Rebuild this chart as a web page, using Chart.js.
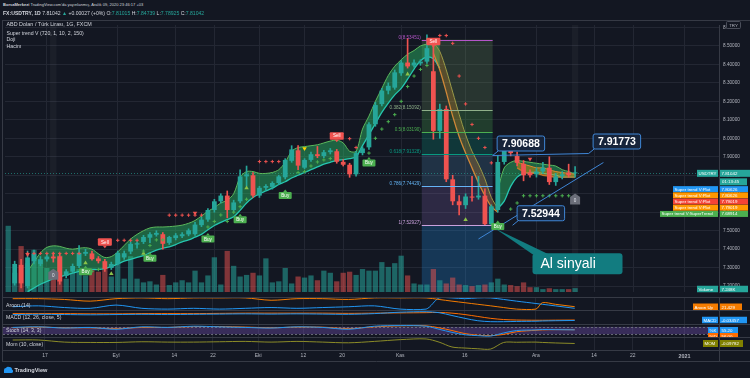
<!DOCTYPE html>
<html lang="tr">
<head>
<meta charset="UTF-8">
<title>USDTRY</title>
<script src="https://cdn.jsdelivr.net/npm/chart.js@4.4.1/dist/chart.umd.min.js"></script>
<style>
  html, body { margin:0; padding:0; background:#131722; }
  #wrap { position:relative; width:750px; height:378px; overflow:hidden; background:#131722;
          font-family:"Liberation Sans", Arial, sans-serif; color:#d1d4dc; }
  #wrap canvas { position:absolute; left:0; }
  .t { position:absolute; white-space:nowrap; line-height:1; }
  .g { color:#26a69a; }
</style>
</head>
<body>
<div id="wrap">
  <canvas id="cMain"  width="750" height="277" style="top:20px"></canvas>
  <canvas id="cAroon" width="750" height="13"  style="top:297px"></canvas>
  <canvas id="cMacd"  width="750" height="14"  style="top:310px"></canvas>
  <canvas id="cStoch" width="750" height="13"  style="top:324px"></canvas>
  <canvas id="cMom"   width="750" height="25"  style="top:337px"></canvas>

  <div class="t" style="left:3px;top:3px;font-size:4.05px"><b>BorsaMerkezi</b> TradingView.com'da yayınlanmış, Aralık 09, 2020 23:46:17 +03</div>
  <div class="t" style="left:3px;top:10.5px;font-size:5.1px"><b>FX:USDTRY, 1D</b> 7.81042 <span class="g">▲</span> +0.00027 (+0%) O:<span class="g">7.81015</span> H:<span class="g">7.84739</span> L:<span class="g">7.78925</span> C:<span class="g">7.81042</span></div>

  <div class="t" style="left:6.5px;top:22.3px;font-size:5.4px">ABD Doları / Türk Lirası, 1G, FXCM</div>
  <div class="t" style="left:6.5px;top:30.5px;font-size:5.2px">Super trend V (720, 1, 10, 2, 150)</div>
  <div class="t" style="left:6.5px;top:37px;font-size:5.2px">Doji</div>
  <div class="t" style="left:6.5px;top:44px;font-size:5.2px">Hacim</div>

  <div class="t" style="left:6px;top:302.5px;font-size:5.2px">Aroon (14)</div>
  <div class="t" style="left:6px;top:315.3px;font-size:5.2px">MACD (12, 26, close, 5)</div>
  <div class="t" style="left:6px;top:328.3px;font-size:5.2px">Stoch (14, 3, 3)</div>
  <div class="t" style="left:6px;top:342px;font-size:5.2px">Mom (10, close)</div>

  <svg style="position:absolute;left:3px;top:366px" width="11" height="8" viewBox="0 0 11 8">
    <path d="M1 7 L1 4 Q1 2 3 2 Q4 0 6.5 1 Q9 1 9 3.5 Q10.5 4 10 6 Q9.6 7 8.5 7 Z" fill="#2196f3"/>
  </svg>
  <div class="t" style="left:14.5px;top:367.5px;font-size:5.6px;font-weight:bold;color:#d1d4dc">TradingView</div>
</div>

<script>
// x axis: trading-day index, 0 = 7 Ağu 2020, 88 = 9 Ara 2020
const tickIdx    = [6, 17, 26, 32, 39, 46, 52, 61, 71, 82, 91, 97, 105];
const tickLabels = ['17', 'Eyl', '14', '22', 'Eki', '12', '20', 'Kas', '16', 'Ara', '14', '22', '2021'];
const priceTicks = [7.2, 7.3, 7.4, 7.5, 7.6, 7.7, 7.8, 7.9, 8.0, 8.1, 8.2, 8.3, 8.4, 8.5, 8.6];

const opens = [null,
  7.215, 7.315, 7.200, 7.335, 7.320, 7.345, 7.360, 7.361, 7.255, 7.278,
  7.309, 7.375, 7.377, 7.350, 7.335, 7.298, 7.320, 7.355, 7.387, 7.425,
  7.439, 7.462, 7.478, 7.481, 7.434, 7.460, 7.470, 7.480, 7.481, 7.530,
  7.560, 7.612, 7.659, 7.690, 7.612, 7.659, 7.794, 7.800, 7.690, 7.732,
  7.737, 7.758, 7.789, 7.878, 7.935, 7.841, 7.883, 7.914, 7.904, 7.925,
  7.930, 7.873, 7.857, 7.805, 7.920, 7.951, 8.076, 8.185, 8.258, 8.274,
  8.352, 8.410, 8.394, 8.405, 8.415, 8.363, 8.040, 8.159, 7.778, 7.659,
  7.638, 7.685, 7.680, 7.690, 7.535, 7.612, 7.872, 7.961, 7.904, 7.862,
  7.815, 7.805, 7.820, 7.841, 7.763, 7.794, 7.815, 7.81015];
const highs = [null,
  7.335, 7.345, 7.390, 7.395, 7.360, 7.375, 7.380, 7.375, 7.290, 7.320,
  7.420, 7.400, 7.390, 7.360, 7.345, 7.330, 7.390, 7.390, 7.440, 7.440,
  7.475, 7.490, 7.500, 7.490, 7.470, 7.485, 7.490, 7.510, 7.545, 7.575,
  7.620, 7.670, 7.700, 7.715, 7.665, 7.830, 7.850, 7.815, 7.740, 7.750,
  7.765, 7.800, 7.890, 7.960, 7.960, 7.890, 7.925, 7.956, 7.935, 7.945,
  7.940, 7.885, 7.865, 7.930, 7.955, 8.085, 8.195, 8.270, 8.300, 8.370,
  8.420, 8.540, 8.425, 8.425, 8.560, 8.534, 8.185, 8.175, 7.800, 7.690,
  7.700, 7.794, 7.794, 7.726, 7.640, 7.907, 8.003, 7.990, 7.925, 7.880,
  7.830, 7.840, 7.870, 7.900, 7.810, 7.820, 7.860, 7.84739];
const lows = [null,
  7.205, 7.190, 7.190, 7.320, 7.310, 7.335, 7.330, 7.210, 7.245, 7.270,
  7.300, 7.365, 7.340, 7.325, 7.280, 7.290, 7.315, 7.345, 7.375, 7.405,
  7.430, 7.435, 7.470, 7.400, 7.425, 7.450, 7.462, 7.472, 7.475, 7.522,
  7.550, 7.600, 7.650, 7.570, 7.600, 7.650, 7.740, 7.680, 7.680, 7.720,
  7.725, 7.750, 7.780, 7.870, 7.830, 7.835, 7.875, 7.895, 7.895, 7.915,
  7.865, 7.850, 7.789, 7.795, 7.910, 7.940, 8.065, 8.175, 8.240, 8.265,
  8.340, 8.380, 8.385, 8.395, 8.405, 7.995, 8.000, 7.765, 7.640, 7.585,
  7.620, 7.660, 7.670, 7.530, 7.5294, 7.600, 7.860, 7.905, 7.850, 7.770,
  7.790, 7.790, 7.810, 7.750, 7.745, 7.780, 7.790, 7.78925];
const closes = [null,
  7.320, 7.215, 7.355, 7.375, 7.345, 7.360, 7.350, 7.225, 7.280, 7.309,
  7.380, 7.385, 7.346, 7.335, 7.293, 7.320, 7.380, 7.378, 7.429, 7.432,
  7.466, 7.481, 7.488, 7.429, 7.466, 7.475, 7.481, 7.502, 7.533, 7.560,
  7.612, 7.659, 7.690, 7.612, 7.653, 7.794, 7.805, 7.690, 7.732, 7.742,
  7.758, 7.794, 7.883, 7.940, 7.852, 7.883, 7.914, 7.904, 7.925, 7.935,
  7.873, 7.857, 7.805, 7.920, 7.945, 8.076, 8.180, 8.258, 8.284, 8.357,
  8.410, 8.389, 8.410, 8.415, 8.488, 8.040, 8.159, 7.778, 7.659, 7.638,
  7.685, 7.679, 7.690, 7.535, 7.632, 7.872, 7.961, 7.920, 7.867, 7.800,
  7.800, 7.820, 7.841, 7.763, 7.794, 7.805, 7.800, 7.81042];
// volume, thousands
const volumes = [
  124, 36, 86, 54, 79, 61, 45, 36, 68, 25,
  36, 43, 31, 43, 38, 45, 29, 70, 25, 67,
  25, 18, 20, 14, 32, 13, 18, 22, 18, 40,
  18, 31, 65, 14, 77, 49, 29, 32, 36, 31,
  63, 18, 20, 45, 16, 29, 27, 31, 22, 40,
  36, 20, 36, 38, 32, 43, 40, 40, 56, 47,
  54, 68, 31, 16, 14, 14, 43, 22, 16, 27,
  14, 13, 11, 13, 14, 18, 25, 14, 13, 11,
  18, 9, 9, 5.4, 7, 5.4, 5.4, 5.4, 7.248];

// super trend ribbon, by segment (start index + values)
const stStartA = 3;
const stUpA = [7.28, 7.33, 7.38, 7.41, 7.418, 7.415, 7.405, 7.40, 7.405, 7.408,
  7.40, 7.375, 7.355, 7.36, 7.385, 7.42, 7.455, 7.48, 7.50, 7.515,
  7.52, 7.52, 7.522, 7.525, 7.53, 7.54, 7.555, 7.58, 7.605, 7.625,
  7.65, 7.665, 7.70, 7.79, 7.82, 7.82, 7.81, 7.81, 7.815, 7.83,
  7.87, 7.93, 7.95, 7.955, 7.96, 7.965, 7.975, 7.985, 7.99, 7.975,
  7.93, 7.93, 8.05, 8.12, 8.20, 8.27, 8.34, 8.39, 8.425, 8.455,
  8.475, 8.50, 8.51, 8.52, 8.52];
const stDnA = [7.17, 7.19, 7.21, 7.225, 7.24, 7.25, 7.26, 7.27, 7.28, 7.285,
  7.29, 7.29, 7.295, 7.305, 7.32, 7.335, 7.345, 7.355, 7.365, 7.38,
  7.395, 7.405, 7.413, 7.425, 7.44, 7.45, 7.465, 7.48, 7.505, 7.528,
  7.545, 7.56, 7.575, 7.61, 7.65, 7.68, 7.70, 7.715, 7.73, 7.75,
  7.765, 7.785, 7.80, 7.815, 7.83, 7.845, 7.86, 7.87, 7.88, 7.885,
  7.89, 7.90, 7.96, 8.02, 8.08, 8.14, 8.19, 8.235, 8.27, 8.32,
  8.375, 8.42, 8.44, 8.43, 8.38];
const stStartB = 66;
const stUpB = [8.52, 8.47, 8.37, 8.25, 8.13, 8.02, 7.93, 7.86, 7.78, 7.68, 7.62];
const stDnB = [8.46, 8.37, 8.25, 8.12, 8.01, 7.92, 7.84, 7.76, 7.69, 7.63, 7.60];
const stStartC = 76;
const stUpC = [7.72, 7.84, 7.87, 7.88, 7.875, 7.87, 7.865, 7.86, 7.855, 7.85, 7.83, 7.82, 7.806];
const stDnC = [7.62, 7.66, 7.74, 7.79, 7.81, 7.815, 7.815, 7.81, 7.805, 7.80, 7.79, 7.79, 7.79];
const stStartD = 79;
const stUpD = [7.87, 7.86, 7.85, 7.84, 7.84, 7.83, 7.82, 7.815, 7.81, 7.806];
const stDnD = [7.84, 7.82, 7.81, 7.81, 7.80, 7.795, 7.79, 7.79, 7.79, 7.79];

// trailing stop crosses
const redDotIdx = [3,4,5,6,7,8,9,10,11, 17,18,19,20, 25,26,27,28,29,30, 39,40,41,42, 53,54, 67,68,69,70,71,72,73,74,75];
const redDotVal = [7.377,7.377,7.377,7.377,7.377,7.377,7.377,7.377,7.377, 7.448,7.448,7.448,7.448,
  7.584,7.584,7.584,7.584,7.584,7.584, 7.874,7.874,7.874,7.874, 7.998,7.95,
  8.556,8.556,8.514,8.337,8.186,8.075,8.00,7.95,7.867];
const greenDotIdx = [12,13,14, 21,22,23,24, 31,32,33,34,35,36,37, 45,46,47,48,49,50,
  56,57,58,59,60,61,62,63,64,65, 78,79, 80,81,82,83,84,85,86,87,88];
const greenDotVal = [7.27,7.28,7.29, 7.39,7.42,7.45,7.45, 7.52,7.55,7.585,7.55,7.60,7.63,7.67,
  7.815,7.82,7.85,7.872,7.883,7.89, 7.92,8.0,8.05,8.09,8.128,8.2,8.28,8.337,8.373,8.394,
  7.617,7.65, 7.689,7.689,7.689,7.689,7.689,7.689,7.689,7.689,7.689];

// signal markers
const triUpIdx = [12, 16, 21, 37, 62, 71];
const triUpVal = [7.325, 7.267, 7.377, 7.731, 8.347, 7.559];
const triRedIdx = [3, 29, 81];
const triRedVal = [7.372, 7.596, 7.888];
const triYelIdx = [46];
const triYelVal = [7.945];
const buyIdx = [12, 22, 31, 36, 43, 56, 76];
const buyVal = [7.278, 7.351, 7.455, 7.559, 7.690, 7.867, 7.523];
const sellIdx = [15, 51, 66];
const sellVal = [7.439, 8.013, 8.5245];
const flagIdx = [7, 88];
const flagVal = [7.262, 7.669];

// fibonacci retracement
const fibRatios = [0, 0.382, 0.5, 0.618, 0.786, 1];
const fibPrices = [8.53451, 8.15092, 8.03190, 7.91328, 7.74429, 7.52927];
const fibExt = 6.908;
const fibFrom = 64.2, fibTo = 75.2;

// drawings
const trendHIdx = [75.2, 90.1];
const trendHVal = [7.90688, 7.91773];
const trendUpIdx = [73.0, 92.4];
const trendUpVal = [7.455, 7.869];
const calloutIdx = [75.2, 90.1, 78.3];
const calloutVal = [7.90688, 7.91773, 7.52944];
const noteIdx = 75.8, noteVal = 7.51, noteText = 'Al sinyali';

const stTagNames = ['Super trend V:Plot', 'Super trend V:Plot', 'Super trend V:Plot', 'Super trend V:Plot', 'Super trend V:SuperTrend'];
const stTagVals  = [7.80626, 7.80626, 7.79019, 7.79019, 7.68914];

// lower panes (sampled bars)
const indIdx   = [1, 5, 9, 13, 17, 21, 25, 29, 33, 37, 41, 45, 49, 53, 57, 61, 65, 67, 69, 71, 73, 75, 77, 79, 82, 83, 85, 88];
const aroonUp  = [93, 93, 86, 71, 93, 100, 93, 100, 100, 100, 79, 93, 93, 86, 100, 100, 100, 86, 71, 57, 43, 29, 14, 0, 0, 57, 43, 21.429];
const aroonDn  = [21, 29, 14, 7, 36, 7, 0, 7, 0, 7, 14, 7, 14, 21, 29, 0, 0, 100, 100, 93, 100, 100, 86, 71, 50, 43, 29, 7];
const macdLine = [0.09, 0.095, 0.09, 0.085, 0.09, 0.095, 0.09, 0.095, 0.1, 0.105, 0.1, 0.105, 0.1, 0.095, 0.11, 0.14, 0.15, 0.13, 0.07, 0.01, -0.04, -0.06, -0.06, -0.055, -0.05, -0.045, -0.04, -0.03457];
const macdSig  = [0.11, 0.11, 0.11, 0.105, 0.105, 0.11, 0.11, 0.11, 0.115, 0.12, 0.12, 0.12, 0.12, 0.115, 0.12, 0.125, 0.13, 0.135, 0.12, 0.09, 0.05, 0.01, -0.015, -0.025, -0.03, -0.03, -0.028, -0.025];
const stochK   = [75, 80, 70, 75, 60, 80, 75, 85, 80, 75, 70, 80, 75, 60, 85, 90, 85, 60, 35, 15, 8, 5, 30, 50, 55, 58, 57, 55.20];
const stochD   = [72, 78, 72, 72, 65, 75, 75, 82, 82, 78, 72, 78, 77, 65, 80, 88, 88, 72, 50, 25, 12, 8, 18, 40, 52, 55, 57, 56];
const stochBands = [80, 20];
const mom      = [0.4, 0.4, 0.1, 0.05, 0.05, 0.15, 0.1, 0.1, 0.15, 0.2, 0.1, 0.2, 0.1, 0.0, 0.2, 0.45, 0.55, 0.1, -0.6, -0.75, -0.85, -0.89, 0.05, 0.08, 0.1, 0.05, -0.02, -0.09782];

// ---------------------------------------------------------------
const GRID = '#232733', BORDER = '#363a45', TXT = '#b2b5be';
const UP = '#26a69a', DOWN = '#ef5350';
const FONT = '"Liberation Sans", Arial, sans-serif';
const X_MIN = -0.5, X_MAX = 110.34;

Chart.defaults.font.family = FONT;
Chart.defaults.animation = false;

const seq = (start, vals) => vals.map((v, k) => ({x: start + k, y: v}));
const pairs = (xs, ys) => ys.map((v, k) => ({x: xs[k], y: v}));
const isUp = i => opens[i] === null || closes[i] >= opens[i];

const bodies = [], wicks = [], vols = [];
opens.forEach((o, i) => {
  if (o !== null) {
    bodies.push({x: i, y: [o, closes[i]]});
    wicks.push({x: i, y: [lows[i], highs[i]]});
  }
  vols.push({x: i, y: volumes[i]});
});

function xAxis(showLabels) {
  return {
    type: 'linear', min: X_MIN, max: X_MAX, offset: false,
    afterBuildTicks: s => { s.ticks = tickIdx.map(v => ({value: v})); },
    afterFit: s => { s.height = showLabels ? 12 : 0; s.paddingLeft = 0; s.paddingRight = 0; },
    grid: {color: GRID, drawTicks: false, offset: false},
    border: {display: false},
    ticks: {
      display: showLabels, autoSkip: false, maxRotation: 0, color: TXT, padding: 3,
      font: c => c.index === tickIdx.length - 1 ? {size: 5.4, weight: 'bold'} : {size: 5},
      callback: (v, i) => tickLabels[i]
    }
  };
}

function ribbon(start, up, dn, fillColor, upColor, dnColor, order) {
  return [
    {type: 'line', data: seq(start, up), borderColor: upColor, borderWidth: 1, fill: '+1',
     backgroundColor: fillColor, pointRadius: 0, tension: 0.3, order: order},
    {type: 'line', data: seq(start, dn), borderColor: dnColor, borderWidth: 1.3, fill: false,
     pointRadius: 0, tension: 0.3, order: order - 1}
  ];
}

function marks(xs, ys, style, color, radius, rot) {
  return {type: 'line', data: pairs(xs, ys), showLine: false, pointStyle: style, pointRadius: radius,
    pointBackgroundColor: color, pointBorderColor: color, pointBorderWidth: style === 'cross' ? 1 : 0,
    pointRotation: rot || 0, order: 1};
}

function clipArea(ctx, a) {
  ctx.beginPath(); ctx.rect(a.left, a.top, a.right - a.left, a.bottom - a.top); ctx.clip();
}

function sigLabel(ctx, cx, cy, w, h, color, text, pointerUp) {
  const l = cx - w / 2, t = cy - h / 2;
  ctx.fillStyle = color;
  ctx.beginPath(); ctx.roundRect(l, t, w, h, 1); ctx.fill();
  ctx.beginPath();
  if (pointerUp) { ctx.moveTo(cx - 2, t); ctx.lineTo(cx, t - 2.5); ctx.lineTo(cx + 2, t); }
  else { ctx.moveTo(cx - 2, t + h); ctx.lineTo(cx, t + h + 2.5); ctx.lineTo(cx + 2, t + h); }
  ctx.fill();
  ctx.fillStyle = '#fff'; ctx.font = '4.6px ' + FONT;
  ctx.textAlign = 'center'; ctx.textBaseline = 'middle';
  ctx.fillText(text, cx, cy + 0.3);
}

function rtag(ctx, x1, x2, yc, h, bg, name, value) {
  ctx.fillStyle = bg;
  ctx.fillRect(x1, yc - h / 2, 718 - x1, h);
  ctx.fillRect(720, yc - h / 2, x2 - 720, h);
  ctx.fillStyle = '#fff'; ctx.font = '4.4px ' + FONT;
  ctx.textAlign = 'left'; ctx.textBaseline = 'middle';
  ctx.fillText(name, x1 + 1.5, yc + 0.3);
  ctx.fillText(value, 721.5, yc + 0.3);
}

const frame = {
  id: 'frame',
  afterDraw(chart) {
    const {ctx, width, height, chartArea: a} = chart;
    ctx.save();
    ctx.strokeStyle = BORDER; ctx.lineWidth = 1;
    ctx.beginPath();
    ctx.moveTo(3, 0.5); ctx.lineTo(width, 0.5);
    ctx.moveTo(2.5, 0); ctx.lineTo(2.5, height);
    if (chart.canvas.id === 'cMom') {
      ctx.moveTo(3, a.bottom + 0.5); ctx.lineTo(width, a.bottom + 0.5);
      ctx.moveTo(3, height - 0.5); ctx.lineTo(width, height - 0.5);
      ctx.moveTo(a.right + 0.5, a.bottom); ctx.lineTo(a.right + 0.5, height);
    }
    ctx.stroke();
    ctx.restore();
  }
};

const mainUnder = {
  id: 'mainUnder',
  beforeDatasetsDraw(chart) {
    const {ctx, chartArea: a, scales: {x, y}} = chart;
    ctx.save();
    clipArea(ctx, a);
    // hovered bars
    ctx.fillStyle = 'rgba(255,255,255,0.035)';
    [flagIdx[0], flagIdx[1]].forEach(i => {
      const px = x.getPixelForValue(i);
      ctx.fillRect(px - 3.2, a.top, 6.4, a.bottom - a.top);
    });
    // fib zones
    const fills = ['rgba(124,173,104,0.20)', 'rgba(76,175,80,0.25)', 'rgba(8,153,129,0.25)',
                   'rgba(100,181,246,0.17)', 'rgba(149,117,205,0.20)', 'rgba(33,150,243,0.25)'];
    const lv = fibPrices.concat([fibExt]);
    const fx1 = x.getPixelForValue(fibFrom), fx2 = x.getPixelForValue(fibTo);
    for (let k = 0; k < lv.length - 1; k++) {
      const y1 = y.getPixelForValue(lv[k]), y2 = y.getPixelForValue(lv[k + 1]);
      ctx.fillStyle = fills[k];
      ctx.fillRect(fx1, y1, fx2 - fx1, y2 - y1);
    }
    // last price line
    const py = Math.round(y.getPixelForValue(closes[closes.length - 1])) + 0.5;
    ctx.strokeStyle = 'rgba(38,166,154,0.6)'; ctx.lineWidth = 1; ctx.setLineDash([1, 2]);
    ctx.beginPath(); ctx.moveTo(a.left, py); ctx.lineTo(a.right, py); ctx.stroke();
    ctx.restore();
  },
  afterDatasetsDraw(chart) {
    const {ctx, chartArea: a, scales: {x, y}} = chart;
    ctx.save();
    clipArea(ctx, a);
    // fib lines and labels
    const lineCol = ['#b455c8', '#8fb08a', '#4caf50', '#089981', '#64b5f6', '#c9a0dc'];
    const fx1 = x.getPixelForValue(fibFrom), fx2 = x.getPixelForValue(fibTo);
    ctx.font = '4.6px ' + FONT; ctx.textAlign = 'right'; ctx.textBaseline = 'middle';
    fibPrices.forEach((p, k) => {
      const py = Math.round(y.getPixelForValue(p)) + 0.5;
      ctx.strokeStyle = lineCol[k]; ctx.lineWidth = 1;
      ctx.beginPath(); ctx.moveTo(fx1, py); ctx.lineTo(fx2, py); ctx.stroke();
      ctx.fillStyle = lineCol[k];
      ctx.fillText(fibRatios[k] + '(' + p.toFixed(5) + ')', fx1 - 1, py - 2.5);
    });
    // buy / sell / flags
    buyIdx.forEach((i, k) => sigLabel(ctx, x.getPixelForValue(i), y.getPixelForValue(buyVal[k]), 13, 7, '#4caf50', 'Buy', true));
    sellIdx.forEach((i, k) => sigLabel(ctx, x.getPixelForValue(i), y.getPixelForValue(sellVal[k]), 14, 7.5, '#f05350', 'Sell', false));
    flagIdx.forEach((i, k) => {
      const cx = x.getPixelForValue(i), cy = y.getPixelForValue(flagVal[k]);
      ctx.fillStyle = '#6b6e79';
      ctx.beginPath();
      ctx.moveTo(cx - 5, cy - 2.5); ctx.lineTo(cx, cy - 6); ctx.lineTo(cx + 5, cy - 2.5);
      ctx.lineTo(cx + 5, cy + 5); ctx.lineTo(cx - 5, cy + 5); ctx.closePath(); ctx.fill();
      ctx.fillStyle = '#e0e3eb'; ctx.font = '4.6px ' + FONT; ctx.textAlign = 'center'; ctx.textBaseline = 'middle';
      ctx.fillText('0', cx, cy + 1.2);
    });
    // price callouts
    calloutIdx.forEach((i, k) => {
      const ax = x.getPixelForValue(i), ay = y.getPixelForValue(calloutVal[k]);
      ctx.strokeStyle = '#3f86d6'; ctx.lineWidth = 1;
      ctx.beginPath(); ctx.moveTo(ax, ay); ctx.lineTo(ax + 5.5, ay - 4.5); ctx.stroke();
      ctx.fillStyle = '#17243a';
      ctx.beginPath(); ctx.roundRect(ax + 4.5, ay - 19.5, 47.5, 15, 2); ctx.fill(); ctx.stroke();
      ctx.fillStyle = '#ffffff'; ctx.font = 'bold 10.5px ' + FONT; ctx.textAlign = 'center'; ctx.textBaseline = 'middle';
      ctx.fillText(calloutVal[k].toFixed(5), ax + 28.25, ay - 11.6);
    });
    // note
    const nx = x.getPixelForValue(noteIdx), ny = y.getPixelForValue(noteVal);
    ctx.fillStyle = '#127c80';
    ctx.beginPath(); ctx.moveTo(nx - 1, ny); ctx.lineTo(nx + 36, ny + 25.5); ctx.lineTo(nx + 52, ny + 25.5); ctx.closePath(); ctx.fill();
    ctx.beginPath(); ctx.roundRect(nx + 36, ny + 24.5, 90, 21, 3); ctx.fill();
    ctx.fillStyle = '#ffffff'; ctx.font = '14px ' + FONT; ctx.textAlign = 'left'; ctx.textBaseline = 'middle';
    ctx.fillText(noteText, nx + 44, ny + 35.5);
    ctx.restore();
  },
  afterDraw(chart) {
    const {ctx, scales: {y}} = chart;
    ctx.save();
    // TRY unit box
    ctx.fillStyle = '#131722'; ctx.strokeStyle = '#4a4e5a'; ctx.lineWidth = 1;
    ctx.beginPath(); ctx.roundRect(726.5, 1.5, 14, 7, 1); ctx.fill(); ctx.stroke();
    ctx.fillStyle = TXT; ctx.font = '4.4px ' + FONT; ctx.textAlign = 'center'; ctx.textBaseline = 'middle';
    ctx.fillText('TRY', 733.5, 5.3);
    // right scale tags
    const last = closes[closes.length - 1];
    const yc = y.getPixelForValue(last);
    rtag(ctx, 697, 750, yc, 7, UP, 'USDTRY', last.toFixed(5));
    ctx.fillStyle = UP; ctx.fillRect(720, yc + 5, 27, 7);
    ctx.fillStyle = '#fff'; ctx.textAlign = 'left'; ctx.fillText('01:13:45', 722, yc + 8.8);
    const cols = ['#2196f3', '#ff9800', '#f44336', '#ff9800', '#4caf50'];
    stTagNames.forEach((n, k) => {
      rtag(ctx, k === 4 ? 660 : 673, 748, yc + 15.8 + k * 6.2, 6, cols[k], n, stTagVals[k].toFixed(5));
    });
    rtag(ctx, 697, 748, chart.chartArea.bottom - 3, 6.5, UP, 'Volume', volumes[volumes.length - 1].toFixed(3) + 'K');
    ctx.restore();
  }
};

new Chart(document.getElementById('cMain'), {
  type: 'bar',
  data: {
    datasets: [
      {type: 'bar', label: 'Hacim', yAxisID: 'yv', data: vols, grouped: false,
       barPercentage: 0.82, categoryPercentage: 1, order: 30,
       backgroundColor: c => (c.raw && !isUp(c.raw.x)) ? 'rgba(239,83,80,0.5)' : 'rgba(38,166,154,0.55)'},
      ...ribbon(stStartA, stUpA, stDnA, 'rgba(46,204,113,0.42)', '#5cb85c', '#26c6b0', 20),
      ...ribbon(stStartB, stUpB, stDnB, 'rgba(230,150,40,0.25)', '#9a9a48', '#d08838', 18),
      ...ribbon(stStartC, stUpC, stDnC, 'rgba(46,204,113,0.42)', '#5cb85c', '#26c6b0', 16),
      ...ribbon(stStartD, stUpD, stDnD, 'rgba(255,152,0,0.40)', '#e08a30', '#c0782a', 14),
      {type: 'bar', label: 'wick', data: wicks, grouped: false, barThickness: 1, order: 6,
       backgroundColor: c => (c.raw && !isUp(c.raw.x)) ? DOWN : UP},
      {type: 'bar', label: 'USDTRY', data: bodies, grouped: false, barPercentage: 0.74,
       categoryPercentage: 1, minBarLength: 1, order: 5,
       backgroundColor: c => (c.raw && !isUp(c.raw.x)) ? DOWN : UP},
      marks(redDotIdx, redDotVal, 'cross', '#ef5350', 1.7),
      marks(greenDotIdx, greenDotVal, 'cross', '#4caf50', 1.7),
      marks(triUpIdx, triUpVal, 'triangle', '#8bc34a', 2.6),
      marks(triRedIdx, triRedVal, 'triangle', '#ef5350', 2.6, 180),
      marks(triYelIdx, triYelVal, 'triangle', '#ffd600', 2.6, 180),
      {type: 'line', data: pairs(trendUpIdx, trendUpVal), borderColor: '#3f86d6', borderWidth: 1, pointRadius: 0, order: 0},
      {type: 'line', data: pairs(trendHIdx, trendHVal), borderColor: '#3f86d6', borderWidth: 1, pointRadius: 0, order: 0}
    ]
  },
  options: {
    responsive: false, animation: false, events: [],
    layout: {padding: {left: 3, right: 0, top: 0, bottom: 0}},
    plugins: {legend: {display: false}, tooltip: {enabled: false}},
    scales: {
      x: xAxis(false),
      y: {
        position: 'right', min: 7.1682, max: 8.6132,
        afterBuildTicks: s => { s.ticks = priceTicks.map(v => ({value: v})); },
        afterFit: s => { s.width = 31; s.paddingTop = 0; s.paddingBottom = 0; },
        grid: {color: GRID, drawTicks: false},
        border: {color: BORDER},
        ticks: {color: TXT, padding: 4, font: {size: 4.7}, callback: v => v.toFixed(5)}
      },
      yv: {display: false, min: 0, max: 500}
    }
  },
  plugins: [mainUnder, frame]
});

function pane(id, yMin, yMax, datasets, extra, showX) {
  return new Chart(document.getElementById(id), {
    type: 'line',
    data: {datasets: datasets},
    options: {
      responsive: false, animation: false, events: [],
      layout: {padding: {left: 3, right: 0, top: 0, bottom: 0}},
      plugins: {legend: {display: false}, tooltip: {enabled: false}},
      scales: {
        x: xAxis(showX),
        y: {position: 'right', min: yMin, max: yMax,
            afterFit: s => { s.width = 31; s.paddingTop = 0; s.paddingBottom = 0; },
            grid: {display: false}, border: {color: BORDER}, ticks: {display: false}}
      }
    },
    plugins: [frame].concat(extra)
  });
}

const ind = (vals, color) => ({data: pairs(indIdx, vals), borderColor: color, borderWidth: 1, pointRadius: 0, tension: 0.3});

function paneTag(name, value, x1, x2, yc, h, bg) {
  return {id: 'tag' + name, afterDraw(chart) {
    const ctx = chart.ctx; ctx.save(); rtag(ctx, x1, x2, yc, h, bg, name, value); ctx.restore();
  }};
}

pane('cAroon', -8, 108, [ind(aroonUp, '#f57c00'), ind(aroonDn, '#2196f3')],
     [paneTag('Aroon Up', aroonUp[aroonUp.length - 1].toFixed(3), 693, 742, 10, 7, '#f57c00')], false);

pane('cMacd', -0.109, 0.186, [ind(macdLine, '#2196f3'), ind(macdSig, '#ff6d00')],
     [paneTag('MACD', macdLine[macdLine.length - 1].toFixed(5), 702, 747, 10, 6.5, '#2196f3')], false);

const stochBg = {
  id: 'stochBg',
  beforeDatasetsDraw(chart) {
    const {ctx, chartArea: a, scales: {y}} = chart;
    const y1 = y.getPixelForValue(stochBands[0]), y2 = y.getPixelForValue(stochBands[1]);
    ctx.save();
    ctx.fillStyle = 'rgba(126,87,194,0.35)';
    ctx.fillRect(a.left, y1, a.right - a.left, y2 - y1);
    ctx.strokeStyle = 'rgba(120,123,134,0.8)'; ctx.lineWidth = 1; ctx.setLineDash([2, 2]);
    ctx.beginPath();
    ctx.moveTo(a.left, Math.round(y1) + 0.5); ctx.lineTo(a.right, Math.round(y1) + 0.5);
    ctx.moveTo(a.left, Math.round(y2) + 0.5); ctx.lineTo(a.right, Math.round(y2) + 0.5);
    ctx.stroke();
    ctx.restore();
  }
};
pane('cStoch', -3, 103, [ind(stochK, '#2196f3'), ind(stochD, '#ff6d00')],
     [stochBg,
      paneTag('%D', stochD[stochD.length - 1].toFixed(2), 708, 738, 12, 6, '#ff6d00'),
      paneTag('%K', stochK[stochK.length - 1].toFixed(2), 708, 738, 6, 6, '#2196f3')], false);

pane('cMom', -1.03, 0.83, [ind(mom, '#8c8c28')],
     [paneTag('MOM', mom[mom.length - 1].toFixed(5), 703, 743, 6.5, 7, '#808000')], true);
</script>
</body>
</html>
